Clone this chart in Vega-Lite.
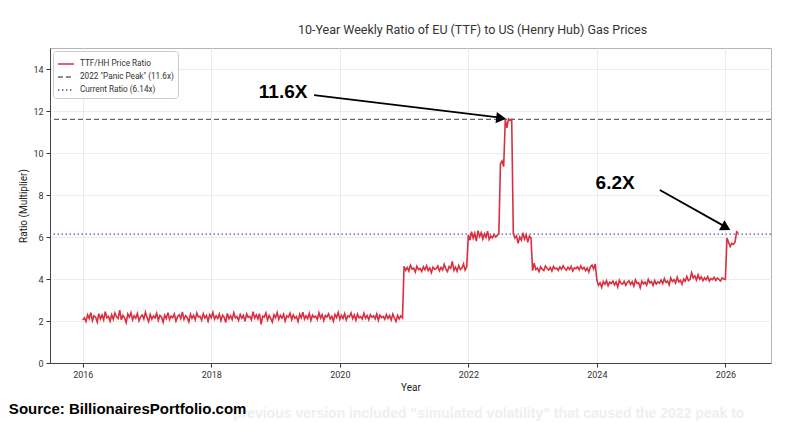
{
  "$schema": "https://vega.github.io/schema/vega-lite/v6.json",
  "width": 721,
  "height": 315,
  "autosize": {"type": "none"},
  "padding": {"left": 50, "top": 48, "right": 22, "bottom": 60},
  "background": "white",
  "config": {
    "font": "Roboto",
    "view": {"stroke": "#b5b5b5", "strokeWidth": 1},
    "axis": {
      "labelFontSize": 9, "labelColor": "#333333", "tickColor": "#333333", "domainColor": "#444444",
      "tickSize": 4, "titleFontSize": 10, "titleFontWeight": "normal", "titleColor": "#222222",
      "gridColor": "#ececec", "labelFont": "Roboto", "titleFont": "Roboto"
    },
    "legend": {
      "orient": "top-left", "offset": 3, "fillColor": "white", "strokeColor": "#cccccc",
      "cornerRadius": 3, "padding": 4, "symbolType": "stroke", "symbolSize": 260,
      "symbolStrokeWidth": 1.5, "labelFontSize": 8.2, "labelColor": "#333333", "rowPadding": -9,
      "labelFont": "Roboto", "labelOffset": 5
    }
  },
  "title": {
    "text": "10-Year Weekly Ratio of EU (TTF) to US (Henry Hub) Gas Prices",
    "fontSize": 12.5, "fontWeight": "normal", "color": "#333333", "anchor": "middle",
    "dx": 62, "offset": 12, "font": "Roboto"
  },
  "datasets": {
    "ratio": [
      {"t":2016,"v":2.05},{"t":2016.025,"v":2.15},{"t":2016.05,"v":1.98},{"t":2016.075,"v":2.3},{"t":2016.1,"v":2.12},{"t":2016.125,"v":2.4},{"t":2016.15,"v":2.02},{"t":2016.175,"v":2.25},{"t":2016.2,"v":2.18},{"t":2016.225,"v":1.95},{"t":2016.25,"v":2.35},{"t":2016.275,"v":2.1},{"t":2016.3,"v":2.28},{"t":2016.325,"v":2.05},{"t":2016.35,"v":2.45},{"t":2016.375,"v":2.15},{"t":2016.4,"v":2.22},{"t":2016.425,"v":1.99},{"t":2016.45,"v":2.3},{"t":2016.475,"v":2.08},
      {"t":2016.5,"v":2.38},{"t":2016.525,"v":2.2},{"t":2016.55,"v":2.12},{"t":2016.575,"v":2.52},{"t":2016.6,"v":2.05},{"t":2016.625,"v":2.27},{"t":2016.65,"v":2.15},{"t":2016.675,"v":1.92},{"t":2016.7,"v":2.33},{"t":2016.725,"v":2.18},{"t":2016.75,"v":2.4},{"t":2016.775,"v":2.06},{"t":2016.8,"v":2.25},{"t":2016.825,"v":2.13},{"t":2016.85,"v":2.36},{"t":2016.875,"v":2.01},{"t":2016.9,"v":2.2},{"t":2016.925,"v":2.29},{"t":2016.95,"v":2.1},{"t":2016.975,"v":2.42},
      {"t":2017,"v":2.16},{"t":2017.025,"v":1.97},{"t":2017.05,"v":2.31},{"t":2017.075,"v":2.09},{"t":2017.1,"v":2.24},{"t":2017.125,"v":2.14},{"t":2017.15,"v":2.37},{"t":2017.175,"v":2.03},{"t":2017.2,"v":2.26},{"t":2017.225,"v":2.19},{"t":2017.25,"v":1.94},{"t":2017.275,"v":2.28},{"t":2017.3,"v":2.12},{"t":2017.325,"v":2.4},{"t":2017.35,"v":2.07},{"t":2017.375,"v":2.23},{"t":2017.4,"v":2.16},{"t":2017.425,"v":2.34},{"t":2017.45,"v":2.0},{"t":2017.475,"v":2.21},
      {"t":2017.5,"v":2.3},{"t":2017.525,"v":2.11},{"t":2017.55,"v":2.43},{"t":2017.575,"v":2.08},{"t":2017.6,"v":2.25},{"t":2017.625,"v":2.17},{"t":2017.65,"v":1.96},{"t":2017.675,"v":2.32},{"t":2017.7,"v":2.13},{"t":2017.725,"v":2.27},{"t":2017.75,"v":2.05},{"t":2017.775,"v":2.38},{"t":2017.8,"v":2.19},{"t":2017.825,"v":2.22},{"t":2017.85,"v":2.04},{"t":2017.875,"v":2.35},{"t":2017.9,"v":2.14},{"t":2017.925,"v":2.26},{"t":2017.95,"v":1.99},{"t":2017.975,"v":2.3},
      {"t":2018,"v":2.16},{"t":2018.025,"v":2.41},{"t":2018.05,"v":2.09},{"t":2018.075,"v":2.24},{"t":2018.1,"v":2.12},{"t":2018.125,"v":2.33},{"t":2018.15,"v":2.02},{"t":2018.175,"v":2.28},{"t":2018.2,"v":2.18},{"t":2018.225,"v":1.93},{"t":2018.25,"v":2.36},{"t":2018.275,"v":2.11},{"t":2018.3,"v":2.25},{"t":2018.325,"v":2.07},{"t":2018.35,"v":2.39},{"t":2018.375,"v":2.15},{"t":2018.4,"v":2.21},{"t":2018.425,"v":2.03},{"t":2018.45,"v":2.31},{"t":2018.475,"v":2.13},
      {"t":2018.5,"v":2.27},{"t":2018.525,"v":1.98},{"t":2018.55,"v":2.34},{"t":2018.575,"v":2.17},{"t":2018.6,"v":2.22},{"t":2018.625,"v":2.06},{"t":2018.65,"v":2.44},{"t":2018.675,"v":2.14},{"t":2018.7,"v":2.29},{"t":2018.725,"v":2.1},{"t":2018.75,"v":2.35},{"t":2018.775,"v":1.84},{"t":2018.8,"v":2.23},{"t":2018.825,"v":2.19},{"t":2018.85,"v":2.38},{"t":2018.875,"v":2.05},{"t":2018.9,"v":2.26},{"t":2018.925,"v":2.12},{"t":2018.95,"v":1.95},{"t":2018.975,"v":2.3},
      {"t":2019,"v":2.16},{"t":2019.025,"v":2.4},{"t":2019.05,"v":2.08},{"t":2019.075,"v":2.27},{"t":2019.1,"v":2.14},{"t":2019.125,"v":2.33},{"t":2019.15,"v":2.0},{"t":2019.175,"v":2.24},{"t":2019.2,"v":2.18},{"t":2019.225,"v":2.37},{"t":2019.25,"v":2.06},{"t":2019.275,"v":2.29},{"t":2019.3,"v":2.13},{"t":2019.325,"v":2.21},{"t":2019.35,"v":1.97},{"t":2019.375,"v":2.32},{"t":2019.4,"v":2.15},{"t":2019.425,"v":2.42},{"t":2019.45,"v":2.09},{"t":2019.475,"v":2.25},
      {"t":2019.5,"v":2.11},{"t":2019.525,"v":2.36},{"t":2019.55,"v":2.03},{"t":2019.575,"v":2.28},{"t":2019.6,"v":2.17},{"t":2019.625,"v":2.23},{"t":2019.65,"v":2.07},{"t":2019.675,"v":2.39},{"t":2019.7,"v":2.14},{"t":2019.725,"v":2.3},{"t":2019.75,"v":2.02},{"t":2019.775,"v":2.26},{"t":2019.8,"v":2.19},{"t":2019.825,"v":2.34},{"t":2019.85,"v":2.1},{"t":2019.875,"v":2.22},{"t":2019.9,"v":1.99},{"t":2019.925,"v":2.31},{"t":2019.95,"v":2.16},{"t":2019.975,"v":2.41},
      {"t":2020,"v":2.08},{"t":2020.025,"v":2.27},{"t":2020.05,"v":2.12},{"t":2020.075,"v":2.35},{"t":2020.1,"v":2.05},{"t":2020.125,"v":2.24},{"t":2020.15,"v":2.2},{"t":2020.175,"v":2.38},{"t":2020.2,"v":2.11},{"t":2020.225,"v":2.29},{"t":2020.25,"v":2.04},{"t":2020.275,"v":2.33},{"t":2020.3,"v":2.15},{"t":2020.325,"v":2.21},{"t":2020.35,"v":2.09},{"t":2020.375,"v":2.37},{"t":2020.4,"v":2.13},{"t":2020.425,"v":2.26},{"t":2020.45,"v":2.06},{"t":2020.475,"v":2.3},
      {"t":2020.5,"v":2.18},{"t":2020.525,"v":2.25},{"t":2020.55,"v":2.1},{"t":2020.575,"v":2.34},{"t":2020.6,"v":2.03},{"t":2020.625,"v":2.28},{"t":2020.65,"v":2.16},{"t":2020.675,"v":2.22},{"t":2020.7,"v":2.08},{"t":2020.725,"v":2.31},{"t":2020.75,"v":2.12},{"t":2020.775,"v":2.26},{"t":2020.8,"v":2.05},{"t":2020.825,"v":2.33},{"t":2020.85,"v":2.14},{"t":2020.875,"v":1.98},{"t":2020.9,"v":2.27},{"t":2020.925,"v":2.1},{"t":2020.95,"v":2.24},{"t":2020.975,"v":2.15},
      {"t":2021,"v":4.6},{"t":2021.025,"v":4.42},{"t":2021.05,"v":4.55},{"t":2021.075,"v":4.38},{"t":2021.1,"v":4.66},{"t":2021.125,"v":4.47},{"t":2021.15,"v":4.52},{"t":2021.175,"v":4.33},{"t":2021.2,"v":4.61},{"t":2021.225,"v":4.45},{"t":2021.25,"v":4.5},{"t":2021.275,"v":4.36},{"t":2021.3,"v":4.58},{"t":2021.325,"v":4.44},{"t":2021.35,"v":4.63},{"t":2021.375,"v":4.4},{"t":2021.4,"v":4.53},{"t":2021.425,"v":4.3},{"t":2021.45,"v":4.57},{"t":2021.475,"v":4.46},
      {"t":2021.5,"v":4.49},{"t":2021.525,"v":4.62},{"t":2021.55,"v":4.39},{"t":2021.575,"v":4.55},{"t":2021.6,"v":4.43},{"t":2021.625,"v":4.7},{"t":2021.65,"v":4.48},{"t":2021.675,"v":4.35},{"t":2021.7,"v":4.59},{"t":2021.725,"v":4.51},{"t":2021.75,"v":4.84},{"t":2021.775,"v":4.41},{"t":2021.8,"v":4.56},{"t":2021.825,"v":4.37},{"t":2021.85,"v":4.64},{"t":2021.875,"v":4.45},{"t":2021.9,"v":4.52},{"t":2021.925,"v":4.72},{"t":2021.95,"v":4.43},{"t":2021.975,"v":4.58},
      {"t":2022,"v":6.1},{"t":2022.025,"v":5.85},{"t":2022.05,"v":6.25},{"t":2022.075,"v":5.95},{"t":2022.1,"v":6.18},{"t":2022.125,"v":5.8},{"t":2022.15,"v":6.3},{"t":2022.175,"v":6.02},{"t":2022.2,"v":6.2},{"t":2022.225,"v":5.9},{"t":2022.25,"v":6.15},{"t":2022.275,"v":5.98},{"t":2022.3,"v":6.28},{"t":2022.325,"v":5.88},{"t":2022.35,"v":6.05},{"t":2022.375,"v":5.95},{"t":2022.4,"v":6.12},{"t":2022.425,"v":6.0},{"t":2022.45,"v":6.08},{"t":2022.475,"v":6.15},
      {"t":2022.5,"v":9.5},{"t":2022.525,"v":9.62},{"t":2022.55,"v":9.35},{"t":2022.575,"v":11.6},{"t":2022.6,"v":11.2},{"t":2022.625,"v":11.62},{"t":2022.65,"v":11.55},{"t":2022.675,"v":11.6},{"t":2022.7,"v":6.15},
      {"t":2022.725,"v":5.95},{"t":2022.75,"v":6.05},{"t":2022.775,"v":5.7},{"t":2022.8,"v":6.0},{"t":2022.825,"v":5.85},{"t":2022.85,"v":6.2},{"t":2022.875,"v":5.9},{"t":2022.9,"v":6.1},{"t":2022.925,"v":5.75},{"t":2022.95,"v":6.05},{"t":2022.975,"v":5.95},
      {"t":2023,"v":4.4},{"t":2023.025,"v":4.75},{"t":2023.05,"v":4.45},{"t":2023.075,"v":4.52},{"t":2023.1,"v":4.35},{"t":2023.125,"v":4.58},{"t":2023.15,"v":4.47},{"t":2023.175,"v":4.4},{"t":2023.2,"v":4.62},{"t":2023.225,"v":4.5},{"t":2023.25,"v":4.43},{"t":2023.275,"v":4.55},{"t":2023.3,"v":4.38},{"t":2023.325,"v":4.6},{"t":2023.35,"v":4.48},{"t":2023.375,"v":4.52},{"t":2023.4,"v":4.41},{"t":2023.425,"v":4.57},{"t":2023.45,"v":4.46},{"t":2023.475,"v":4.63},
      {"t":2023.5,"v":4.5},{"t":2023.525,"v":4.42},{"t":2023.55,"v":4.56},{"t":2023.575,"v":4.45},{"t":2023.6,"v":4.6},{"t":2023.625,"v":4.38},{"t":2023.65,"v":4.53},{"t":2023.675,"v":4.49},{"t":2023.7,"v":4.58},{"t":2023.725,"v":4.44},{"t":2023.75,"v":4.62},{"t":2023.775,"v":4.47},{"t":2023.8,"v":4.55},{"t":2023.825,"v":4.4},{"t":2023.85,"v":4.52},{"t":2023.875,"v":4.33},{"t":2023.9,"v":4.59},{"t":2023.925,"v":4.66},{"t":2023.95,"v":4.48},{"t":2023.975,"v":4.72},
      {"t":2024,"v":3.95},{"t":2024.025,"v":3.7},{"t":2024.05,"v":3.82},{"t":2024.075,"v":3.6},{"t":2024.1,"v":3.88},{"t":2024.125,"v":3.75},{"t":2024.15,"v":3.92},{"t":2024.175,"v":3.68},{"t":2024.2,"v":3.85},{"t":2024.225,"v":3.78},{"t":2024.25,"v":3.9},{"t":2024.275,"v":3.72},{"t":2024.3,"v":3.86},{"t":2024.325,"v":3.62},{"t":2024.35,"v":3.94},{"t":2024.375,"v":3.8},{"t":2024.4,"v":3.76},{"t":2024.425,"v":3.89},{"t":2024.45,"v":3.7},{"t":2024.475,"v":3.84},
      {"t":2024.5,"v":3.91},{"t":2024.525,"v":3.74},{"t":2024.55,"v":3.87},{"t":2024.575,"v":3.66},{"t":2024.6,"v":3.96},{"t":2024.625,"v":3.79},{"t":2024.65,"v":3.83},{"t":2024.675,"v":3.58},{"t":2024.7,"v":3.9},{"t":2024.725,"v":3.77},{"t":2024.75,"v":3.85},{"t":2024.775,"v":3.71},{"t":2024.8,"v":3.98},{"t":2024.825,"v":3.81},{"t":2024.85,"v":3.88},{"t":2024.875,"v":3.69},{"t":2024.9,"v":3.93},{"t":2024.925,"v":3.76},{"t":2024.95,"v":3.86},{"t":2024.975,"v":3.8},
      {"t":2025,"v":3.95},{"t":2025.025,"v":3.78},{"t":2025.05,"v":4.02},{"t":2025.075,"v":3.84},{"t":2025.1,"v":3.9},{"t":2025.125,"v":3.72},{"t":2025.15,"v":4.05},{"t":2025.175,"v":3.88},{"t":2025.2,"v":3.97},{"t":2025.225,"v":3.8},{"t":2025.25,"v":4.08},{"t":2025.275,"v":3.86},{"t":2025.3,"v":3.94},{"t":2025.325,"v":3.75},{"t":2025.35,"v":4.0},{"t":2025.375,"v":3.89},{"t":2025.4,"v":4.12},{"t":2025.425,"v":3.92},{"t":2025.45,"v":3.98},{"t":2025.475,"v":4.3},
      {"t":2025.5,"v":4.05},{"t":2025.525,"v":4.15},{"t":2025.55,"v":3.95},{"t":2025.575,"v":4.2},{"t":2025.6,"v":3.99},{"t":2025.625,"v":4.1},{"t":2025.65,"v":3.92},{"t":2025.675,"v":4.06},{"t":2025.7,"v":3.96},{"t":2025.725,"v":4.12},{"t":2025.75,"v":3.9},{"t":2025.775,"v":4.02},{"t":2025.8,"v":3.97},{"t":2025.825,"v":4.08},{"t":2025.85,"v":3.93},{"t":2025.875,"v":4.04},{"t":2025.9,"v":3.98},{"t":2025.925,"v":3.91},{"t":2025.95,"v":4.05},{"t":2025.975,"v":4.0},
      {"t":2026,"v":3.98},{"t":2026.025,"v":5.95},{"t":2026.05,"v":5.75},{"t":2026.075,"v":5.55},{"t":2026.1,"v":5.7},{"t":2026.125,"v":5.65},{"t":2026.15,"v":5.75},{"t":2026.175,"v":6.25},{"t":2026.2,"v":6.2}
    ],
    "refs": [
      {"s": "2022 \"Panic Peak\" (11.6x)", "y": 11.6},
      {"s": "Current Ratio (6.14x)", "y": 6.14}
    ],
    "arrows": [
      {"x": 2019.6, "y": 12.76, "x2": 2022.5, "y2": 11.68},
      {"x": 2024.98, "y": 8.24, "x2": 2026.01, "y2": 6.47}
    ],
    "notes": [
      {"x": 2018.74, "y": 12.9, "txt": "11.6X"},
      {"x": 2023.98, "y": 8.57, "txt": "6.2X"}
    ]
  },
  "layer": [
    {
      "data": {"name": "refs"},
      "mark": {"type": "rule", "strokeWidth": 1.2},
      "encoding": {
        "y": {"field": "y", "type": "quantitative", "title": "Ratio (Multiplier)", "scale": {"domain": [0, 15], "nice": false, "zero": false}},
        "color": {
          "field": "s", "type": "nominal",
          "scale": {"domain": ["TTF/HH Price Ratio", "2022 \"Panic Peak\" (11.6x)", "Current Ratio (6.14x)"], "range": ["#d9303f", "#666666", "#5050b0"]},
          "legend": {"title": null}
        },
        "strokeDash": {
          "field": "s", "type": "nominal",
          "scale": {"domain": ["TTF/HH Price Ratio", "2022 \"Panic Peak\" (11.6x)", "Current Ratio (6.14x)"], "range": [[1, 0], [5, 3], [1.5, 2.5]]},
          "legend": {"title": null}
        }
      }
    },
    {
      "data": {"name": "ratio"},
      "mark": {"type": "line", "strokeWidth": 1.6},
      "encoding": {
        "x": {
          "field": "t", "type": "quantitative", "title": "Year",
          "scale": {"domain": [2015.49, 2026.71], "nice": false, "zero": false},
          "axis": {"values": [2016, 2018, 2020, 2022, 2024, 2026], "format": "d", "grid": true, "labelPadding": 3, "titlePadding": 3}
        },
        "y": {
          "field": "v", "type": "quantitative", "title": "Ratio (Multiplier)",
          "axis": {"values": [0, 2, 4, 6, 8, 10, 12, 14], "grid": true, "labelPadding": 3, "titlePadding": 4}
        },
        "color": {"datum": "TTF/HH Price Ratio", "type": "nominal", "legend": {"title": null}},
        "strokeDash": {"datum": "TTF/HH Price Ratio", "type": "nominal", "legend": {"title": null}}
      }
    },
    {
      "data": {"name": "arrows"},
      "mark": {"type": "rule", "strokeWidth": 1.8, "color": "black"},
      "encoding": {
        "x": {"field": "x", "type": "quantitative", "title": "Year"},
        "y": {"field": "y", "type": "quantitative", "title": "Ratio (Multiplier)"},
        "x2": {"field": "x2"},
        "y2": {"field": "y2"}
      }
    },
    {
      "data": {"values": [{"x": 2022.51, "y": 11.66}]},
      "mark": {"type": "point", "shape": "triangle-right", "filled": true, "color": "black", "opacity": 1, "size": 130, "angle": 7},
      "encoding": {
        "x": {"field": "x", "type": "quantitative", "title": "Year"},
        "y": {"field": "y", "type": "quantitative", "title": "Ratio (Multiplier)"}
      }
    },
    {
      "data": {"values": [{"x": 2026.01, "y": 6.45}]},
      "mark": {"type": "point", "shape": "triangle-right", "filled": true, "color": "black", "opacity": 1, "size": 130, "angle": 29},
      "encoding": {
        "x": {"field": "x", "type": "quantitative", "title": "Year"},
        "y": {"field": "y", "type": "quantitative", "title": "Ratio (Multiplier)"}
      }
    },
    {
      "data": {"name": "notes"},
      "mark": {"type": "text", "font": "Liberation Sans", "fontWeight": "bold", "fontSize": 19, "align": "left", "baseline": "middle", "color": "black"},
      "encoding": {
        "x": {"field": "x", "type": "quantitative", "title": "Year"},
        "y": {"field": "y", "type": "quantitative", "title": "Ratio (Multiplier)"},
        "text": {"field": "txt"}
      }
    },
    {
      "data": {"values": [{"x": 2018.34, "y": -2.45, "txt": "previous version included \"simulated volatility\" that caused the 2022 peak to"}]},
      "mark": {"type": "text", "font": "Liberation Sans", "fontWeight": "bold", "fontSize": 14, "align": "left", "baseline": "middle", "color": "#efefef"},
      "encoding": {
        "x": {"field": "x", "type": "quantitative", "title": "Year"},
        "y": {"field": "y", "type": "quantitative", "title": "Ratio (Multiplier)"},
        "text": {"field": "txt"}
      }
    },
    {
      "data": {"values": [{"x": 2014.85, "y": -2.19, "txt": "Source: BillionairesPortfolio.com"}]},
      "mark": {"type": "text", "font": "Liberation Sans", "fontWeight": "bold", "fontSize": 15, "align": "left", "baseline": "middle", "color": "black"},
      "encoding": {
        "x": {"field": "x", "type": "quantitative", "title": "Year"},
        "y": {"field": "y", "type": "quantitative", "title": "Ratio (Multiplier)"},
        "text": {"field": "txt"}
      }
    }
  ]
}
